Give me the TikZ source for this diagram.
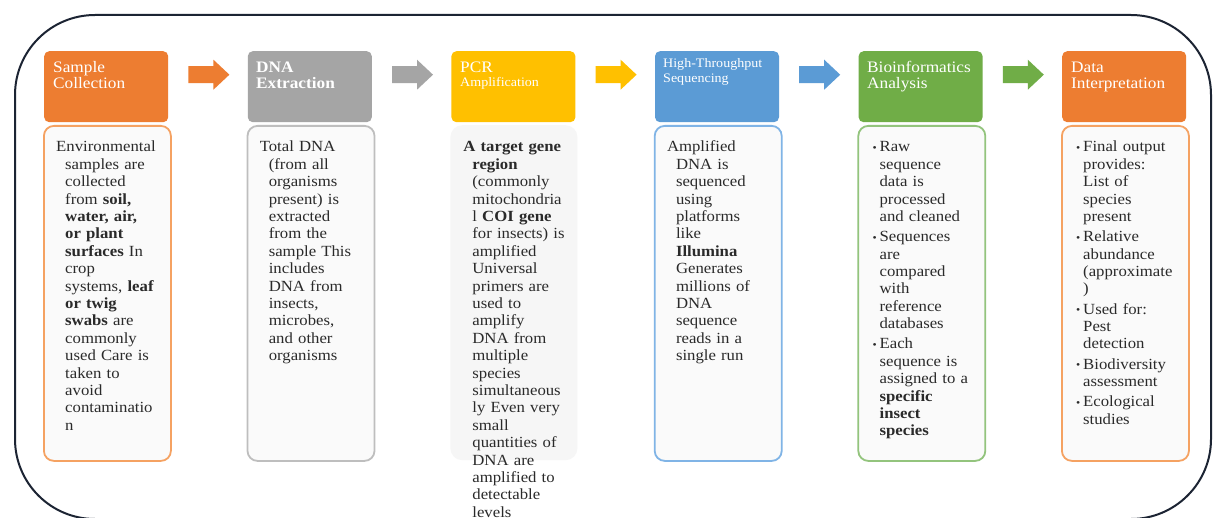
\documentclass[tikz,border=0pt]{standalone}
\usepackage{fontspec}
\setmainfont[FakeStretch=1.08]{Liberation Serif}
\usetikzlibrary{calc}
\definecolor{cOr}{HTML}{ED7D31}
\definecolor{cGr}{HTML}{A5A5A5}
\definecolor{cYe}{HTML}{FFC000}
\definecolor{cBl}{HTML}{5B9BD5}
\definecolor{cGn}{HTML}{70AD47}
\definecolor{bOr}{HTML}{F5A262}
\definecolor{bGr}{HTML}{BEBEBE}
\definecolor{bBl}{HTML}{80B4E6}
\definecolor{bGn}{HTML}{93C47D}
\definecolor{pcrbg}{HTML}{F6F6F6}
\definecolor{framec}{HTML}{1C2433}
\definecolor{txt}{HTML}{2A2A2A}
\tikzset{
  headbox/.style={rectangle, rounded corners=5pt, minimum width=124pt, minimum height=71pt, inner sep=0pt, anchor=north west, fill=#1},
  bodybox/.style={rectangle, rounded corners=10pt, minimum width=127pt, minimum height=335pt, inner sep=0pt, anchor=north west, draw=#1, line width=1.8pt, fill=white!98!black},
  pcrbox/.style={rectangle, rounded corners=12pt, minimum width=127pt, minimum height=335pt, inner sep=0pt, anchor=north west, fill=pcrbg},
  htext/.style={anchor=base west, inner sep=0pt, text=white, font=\fontsize{16}{16}\selectfont},
  hsmall/.style={anchor=base west, inner sep=0pt, text=white, font=\fontsize{13}{13}\selectfont},
  btext/.style={anchor=base west, inner sep=0pt, text=txt, text width=130pt, align=left, font=\fontsize{15.5}{17.4}\selectfont},
  outerframe/.style={draw=framec, line width=2pt, rounded corners=80pt},
}
\newcommand{\bul}{\hspace*{-7pt}\makebox[7pt][l]{\raisebox{0.5pt}{\fontsize{11}{11}\selectfont\textbullet}}}
\newcommand{\hng}{\hspace*{-9pt}}
\newcommand{\blockarr}[2]{\fill[#2] (#1) ++(0,-8.5) -- ++(25,0) -- ++(0,-6.5) -- ++(16,15) -- ++(-16,15) -- ++(0,-6.5) -- ++(-25,0) -- cycle;}
\begin{document}
\begin{tikzpicture}[x=1pt,y=-1pt]
\useasboundingbox (0,0) rectangle (1213,518);
\clip (0,0) rectangle (1213,518);
\fill[white] (0,0) rectangle (1213,518);
\draw[outerframe] (15,15) rectangle (1211,519);

% header boxes
\node[headbox=cOr] (h1) at (44,51) {};
\node[headbox=cGr] (h2) at (247.6,51) {};
\node[headbox=cYe] (h3) at (451.2,51) {};
\node[headbox=cBl] (h4) at (654.8,51) {};
\node[headbox=cGn] (h5) at (858.4,51) {};
\node[headbox=cOr] (h6) at (1062,51) {};

% body boxes
\node[bodybox=bOr] (b1) at (43,125) {};
\node[bodybox=bGr] (b2) at (246.6,125) {};
\node[pcrbox] (b3) at (450.2,125) {};
\node[bodybox=bBl] (b4) at (653.8,125) {};
\node[bodybox=bGn] (b5) at (857.4,125) {};
\node[bodybox=bOr] (b6) at (1061,125) {};

% arrows
\coordinate (a1) at ($(h1.east)+(20,-12)$);
\coordinate (a2) at ($(h2.east)+(20,-12)$);
\coordinate (a3) at ($(h3.east)+(20,-12)$);
\coordinate (a4) at ($(h4.east)+(20,-12)$);
\coordinate (a5) at ($(h5.east)+(20,-12)$);
\blockarr{a1}{cOr}
\blockarr{a2}{cGr}
\blockarr{a3}{cYe}
\blockarr{a4}{cBl}
\blockarr{a5}{cGn}

% header texts
\node[htext] (t1a) at (53,73) {Sample};
\node[htext] (t1b) at (53,89) {Collection};
\node[htext, font=\fontsize{16}{16}\selectfont\bfseries] (t2a) at (256,73) {DNA};
\node[htext, font=\fontsize{16}{16}\selectfont\bfseries] (t2b) at (256,89) {Extraction};
\node[htext] (t3a) at (460,73) {PCR};
\node[hsmall] (t3b) at (460,87) {Amplification};
\node[hsmall] (t4a) at (663,68) {High-Throughput};
\node[hsmall] (t4b) at (663,83) {Sequencing};
\node[htext] (t5a) at (867,73) {Bioinformatics};
\node[htext] (t5b) at (867,89) {Analysis};
\node[htext] (t6a) at (1071,73) {Data};
\node[htext] (t6b) at (1071,89) {Interpretation};

% body texts
\node[btext] (x1) at (65,152) {\hng Environmental\\ samples are\\ collected\\ from \textbf{soil,}\\ \textbf{water, air,}\\ \textbf{or plant}\\ \textbf{surfaces} In\\ crop\\ systems, \textbf{leaf}\\ \textbf{or twig}\\ \textbf{swabs} are\\ commonly\\ used Care is\\ taken to\\ avoid\\ contaminatio\\ n};

\node[btext] (x2) at (268.6,152) {\hng Total DNA\\ (from all\\ organisms\\ present) is\\ extracted\\ from the\\ sample This\\ includes\\ DNA from\\ insects,\\ microbes,\\ and other\\ organisms};

\node[btext] (x3) at (472.2,152) {\hng \textbf{A target gene}\\ \textbf{region}\\ (commonly\\ mitochondria\\ l \textbf{COI gene}\\ for insects) is\\ amplified\\ Universal\\ primers are\\ used to\\ amplify\\ DNA from\\ multiple\\ species\\ simultaneous\\ ly Even very\\ small\\ quantities of\\ DNA are\\ amplified to\\ detectable\\ levels};

\node[btext] (x4) at (675.8,152) {\hng Amplified\\ DNA is\\ sequenced\\ using\\ platforms\\ like\\ \textbf{Illumina}\\ Generates\\ millions of\\ DNA\\ sequence\\ reads in a\\ single run};

\node[btext] (x5) at (879.4,152) {\bul Raw\\ sequence\\ data is\\ processed\\ and cleaned\\[2.8pt] \bul Sequences\\ are\\ compared\\ with\\ reference\\ databases\\[2.8pt] \bul Each\\ sequence is\\ assigned to a\\ \textbf{specific}\\ \textbf{insect}\\ \textbf{species}};

\node[btext] (x6) at (1083,152) {\bul Final output\\ provides:\\ List of\\ species\\ present\\[2.8pt] \bul Relative\\ abundance\\ (approximate\\ )\\[2.8pt] \bul Used for:\\ Pest\\ detection\\[2.8pt] \bul Biodiversity\\ assessment\\[2.8pt] \bul Ecological\\ studies};
\end{tikzpicture}
\end{document}
